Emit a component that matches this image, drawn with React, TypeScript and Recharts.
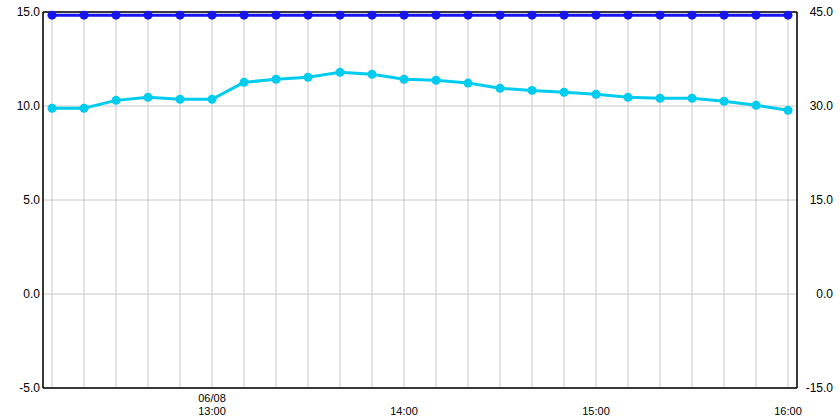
import {
  CartesianGrid,
  ComposedChart,
  Line,
  ReferenceLine,
  XAxis,
  YAxis,
} from "recharts";

// minutes after 12:00, one point every 10 minutes
const minutes = [
  10, 20, 30, 40, 50, 60, 70, 80, 90, 100, 110, 120, 130, 140, 150, 160, 170,
  180, 190, 200, 210, 220, 230, 240,
];
const cyanValues = [
  9.88, 9.88, 10.3, 10.46, 10.36, 10.36, 11.26, 11.42, 11.53, 11.79, 11.69,
  11.42, 11.37, 11.22, 10.94, 10.83, 10.73, 10.62, 10.46, 10.41, 10.41, 10.25,
  10.04, 9.77,
];
const blueValues = [
  44.5, 44.5, 44.5, 44.5, 44.5, 44.5, 44.5, 44.5, 44.5, 44.5, 44.5, 44.5, 44.5,
  44.5, 44.5, 44.5, 44.5, 44.5, 44.5, 44.5, 44.5, 44.5, 44.5, 44.5,
];
const leftTicks = [-5, 0, 5, 10, 15];
const rightTicks = [-15, 0, 15, 30, 45];
const timeLabels: Record<number, string> = {
  60: "13:00",
  120: "14:00",
  180: "15:00",
  240: "16:00",
};
const dateLabels: Record<number, string> = { 60: "06/08" };

const FONT = '"Liberation Sans", sans-serif';
const CYAN = "#00ccee";
const BLUE = "#1515ee";
const GRID = "#c8c8c8";

const data = minutes.map((t, i) => ({
  t,
  cyan: cyanValues[i],
  blue: blueValues[i],
}));

function TimeTick(props: any) {
  const { x, y, payload } = props;
  const time = timeLabels[payload.value];
  const date = dateLabels[payload.value];
  if (!time) return null;
  return (
    <g>
      {date && (
        <text
          x={x}
          y={y + 14}
          textAnchor="middle"
          fontFamily={FONT}
          fontSize={11}
          fill="#000"
        >
          {date}
        </text>
      )}
      <text
        x={x}
        y={y + 27}
        textAnchor="middle"
        fontFamily={FONT}
        fontSize={11}
        fill="#000"
      >
        {time}
      </text>
    </g>
  );
}

function LeftTick(props: any) {
  const { x, y, payload } = props;
  return (
    <text
      x={x}
      y={y}
      dy={4}
      textAnchor="end"
      fontFamily={FONT}
      fontSize={12}
      fill="#000"
    >
      {payload.value.toFixed(1)}
    </text>
  );
}

function RightTick(props: any) {
  const { x, y, payload } = props;
  return (
    <text
      x={x + 33}
      y={y}
      dy={4}
      textAnchor="end"
      fontFamily={FONT}
      fontSize={12}
      fill="#000"
    >
      {payload.value.toFixed(1)}
    </text>
  );
}

export default function App() {
  return (
    <div style={{ position: "fixed", left: 0, top: 0, background: "#fff" }}>
      <ComposedChart
        width={840}
        height={420}
        data={data}
        margin={{ top: 12, right: 0, bottom: 0, left: 0 }}
      >
        <CartesianGrid yAxisId="left" stroke={GRID} strokeWidth={1} />
        <XAxis
          dataKey="t"
          type="number"
          domain={[7.1875, 242.8125]}
          ticks={minutes}
          interval={0}
          height={32}
          tickLine={false}
          tickSize={0}
          tickMargin={0}
          axisLine={{ stroke: "#000", strokeWidth: 1.5 }}
          tick={<TimeTick />}
        />
        <YAxis
          yAxisId="left"
          orientation="left"
          domain={[-5, 15]}
          ticks={leftTicks}
          width={43}
          tickLine={false}
          tickSize={0}
          tickMargin={3}
          axisLine={{ stroke: "#000", strokeWidth: 1.5 }}
          tick={<LeftTick />}
        />
        <YAxis
          yAxisId="right"
          orientation="right"
          domain={[-15, 45]}
          ticks={rightTicks}
          width={43}
          tickLine={false}
          tickSize={0}
          tickMargin={3}
          axisLine={{ stroke: "#000", strokeWidth: 1.5 }}
          tick={<RightTick />}
        />
        <ReferenceLine yAxisId="left" y={15} stroke="#000" strokeWidth={1.5} />
        <Line
          yAxisId="left"
          dataKey="cyan"
          type="linear"
          stroke={CYAN}
          strokeWidth={3}
          dot={{ r: 4.5, fill: CYAN, stroke: "none" }}
          isAnimationActive={false}
        />
        <Line
          yAxisId="right"
          dataKey="blue"
          type="linear"
          stroke={BLUE}
          strokeWidth={3}
          dot={{ r: 4.5, fill: BLUE, stroke: "none" }}
          isAnimationActive={false}
        />
      </ComposedChart>
    </div>
  );
}
